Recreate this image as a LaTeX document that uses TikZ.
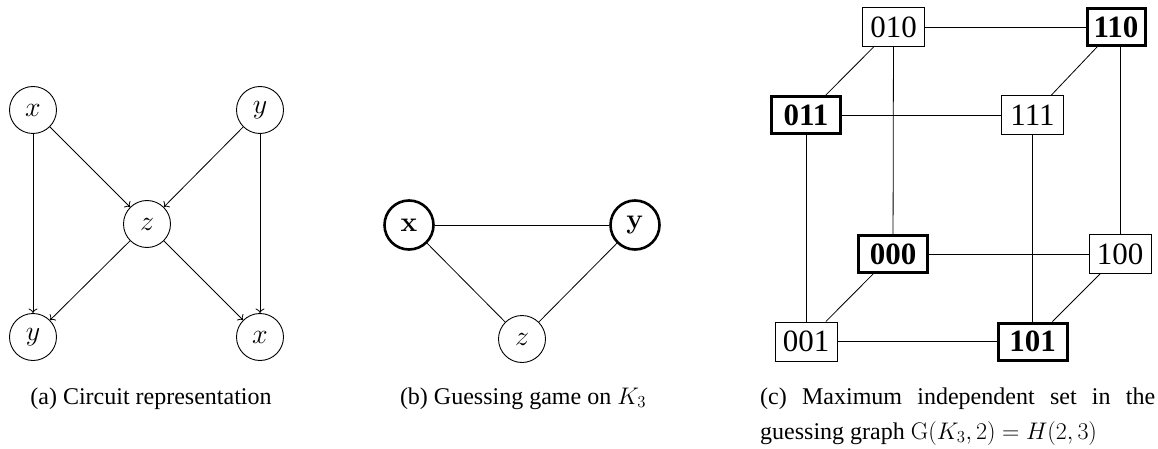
\RequirePackage{fix-cm}
\documentclass[tikz,border=0pt]{standalone}
\usepackage[no-math]{fontspec}
\setmainfont{Liberation Serif}
\usetikzlibrary{arrows.meta}
\begin{document}
\begin{tikzpicture}[x=1pt,y=-1pt,
  vtx/.style={circle,draw,line width=0.9pt,minimum size=47pt,inner sep=0pt,font=\fontsize{28}{32}\selectfont},
  bvtx/.style={circle,draw,line width=2.6pt,minimum size=49pt,inner sep=0pt,font=\fontsize{28}{32}\selectfont},
  arr/.style={-{To[length=4.5pt,width=9pt]},line width=0.8pt},
  lnk/.style={line width=0.8pt},
  sbox/.style={draw,line width=0.9pt,minimum width=62pt,minimum height=39pt,inner sep=0pt,font=\fontsize{31}{34}\selectfont},
  bbox/.style={draw,line width=3pt,minimum width=69pt,minimum height=37pt,inner sep=0pt,font=\fontsize{31}{34}\selectfont\bfseries},
  captxt/.style={font=\fontsize{24}{35}\selectfont,inner sep=0pt}]
\useasboundingbox (0,0) rectangle (1158,449);
% (a)
\node[vtx] (ax) at (33,110) {$x$};
\node[vtx] (ay) at (260,110) {$y$};
\node[vtx] (az) at (147,224) {$z$};
\node[vtx] (by) at (33,337) {$y$};
\node[vtx] (bx) at (260,337) {$x$};
\draw[arr] (ax) -- (by);
\draw[arr] (ax) -- (az);
\draw[arr] (ay) -- (az);
\draw[arr] (ay) -- (bx);
\draw[arr] (az) -- (by);
\draw[arr] (az) -- (bx);
\node[captxt,anchor=base] (capa) at (151,404) {(a) Circuit representation};
% (b)
\node[bvtx] (gx) at (409,225) {$\mathbf{x}$};
\node[bvtx] (gy) at (635,225) {$\mathbf{y}$};
\node[vtx] (gz) at (522,339) {$z$};
\draw[lnk] (gx) -- (gy);
\draw[lnk] (gx) -- (gz);
\draw[lnk] (gy) -- (gz);
\node[captxt,anchor=base] (capb) at (523,404) {(b) Guessing game on $K_3$};
% (c)
\node[sbox] (n010) at (893.5,27) {010};
\node[bbox,minimum width=58pt] (n110) at (1116,27) {110};
\node[bbox] (n011) at (806,115) {011};
\node[sbox] (n111) at (1032.5,115) {111};
\node[bbox] (n000) at (893,254) {000};
\node[sbox] (n100) at (1120,254) {100};
\node[sbox] (n001) at (806,341.5) {001};
\node[bbox] (n101) at (1032.5,341.5) {101};
\draw[lnk] (n010) -- (n110);
\draw[lnk] (n010) -- (n011);
\draw[lnk] (n010) -- (n000);
\draw[lnk] (n110) -- (n111);
\draw[lnk] (n110.south -| n100) -- (n100);
\draw[lnk] (n011) -- (n111);
\draw[lnk] (n011) -- (n001);
\draw[lnk] (n111) -- (n101);
\draw[lnk] (n000) -- (n100);
\draw[lnk] (n000) -- (n001);
\draw[lnk] (n100) -- (n101);
\draw[lnk] (n001) -- (n101);
\node[captxt,anchor=base west] (capc1) at (760,404) {\hbox to 395pt{(c) Maximum independent set in the}};
\node[captxt,anchor=base west] (capc2) at (760,439) {guessing graph $\mathrm{G}(K_3,2)=H(2,3)$};
\end{tikzpicture}
\end{document}
